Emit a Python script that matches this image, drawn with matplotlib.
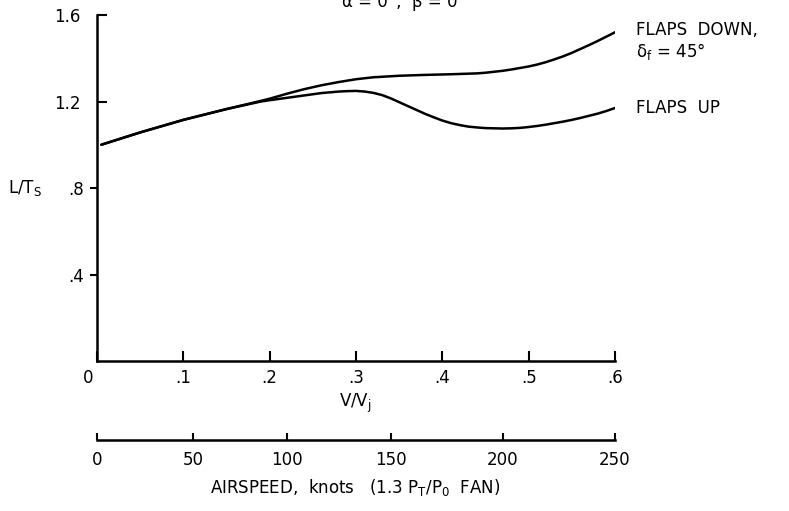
import matplotlib
matplotlib.use("Agg")
import matplotlib.pyplot as plt
from matplotlib.ticker import FixedLocator, FixedFormatter
from matplotlib.transforms import ScaledTranslation

# ---- data ----
flaps_up_v = [0.005, 0.05, 0.10, 0.15, 0.19, 0.20, 0.22, 0.24, 0.26, 0.28, 0.29, 0.30, 0.31,
              0.32, 0.33, 0.34, 0.35, 0.36, 0.37, 0.38, 0.39, 0.40, 0.41, 0.42, 0.43, 0.44,
              0.45, 0.46, 0.47, 0.48, 0.49, 0.50, 0.51, 0.52, 0.53, 0.54, 0.55, 0.56, 0.57,
              0.58, 0.59, 0.60]
flaps_up_l = [1.000, 1.057, 1.115, 1.165, 1.200, 1.206, 1.217, 1.228, 1.239, 1.246, 1.248, 1.249, 1.246,
              1.240, 1.230, 1.215, 1.197, 1.179, 1.161, 1.143, 1.127, 1.112, 1.100, 1.091, 1.084, 1.080,
              1.077, 1.076, 1.075, 1.076, 1.078, 1.082, 1.087, 1.093, 1.100, 1.107, 1.115, 1.124, 1.134,
              1.144, 1.156, 1.170]

flaps_down_v = [0.005, 0.05, 0.10, 0.15, 0.19, 0.20, 0.22, 0.24, 0.26, 0.28, 0.30, 0.32, 0.35,
                0.38, 0.41, 0.44, 0.45, 0.47, 0.48, 0.50, 0.51, 0.52, 0.53, 0.54, 0.55, 0.56,
                0.57, 0.58, 0.59, 0.60]
flaps_down_l = [1.000, 1.057, 1.115, 1.165, 1.203, 1.213, 1.236, 1.257, 1.275, 1.290, 1.303, 1.312, 1.319,
                1.323, 1.326, 1.330, 1.333, 1.342, 1.348, 1.362, 1.371, 1.382, 1.395, 1.409, 1.425, 1.443,
                1.461, 1.480, 1.500, 1.520]

vvj_ticks = [0, 0.1, 0.2, 0.3, 0.4, 0.5, 0.6]
vvj_labels = ["0", ".1", ".2", ".3", ".4", ".5", ".6"]
lts_major = [1.2, 1.6]
lts_major_labels = ["1.2", "1.6"]
lts_minor = [0.4, 0.8]
lts_minor_labels = [".4", ".8"]

airspeed_knots = [0, 50, 100, 150, 200, 250]
airspeed_vvj = [0.0, 0.111, 0.220, 0.341, 0.470, 0.600]

# ---- figure ----
W, H = 789, 511
fig = plt.figure(figsize=(W / 100, H / 100), dpi=100)
plt.rcParams['font.family'] = ['DejaVu Sans']
fs = 12

left = 97 / W
right = 615 / W
bottom = 1 - 361 / H
top = 1 - 15 / H
ax = fig.add_axes([left, bottom, right - left, top - bottom])

ax.plot(flaps_down_v, flaps_down_l, color="black", lw=1.8, solid_capstyle="round", solid_joinstyle="round")
ax.plot(flaps_up_v, flaps_up_l, color="black", lw=1.8, solid_capstyle="round", solid_joinstyle="round")

ax.set_xlim(0, 0.6)
ax.set_ylim(0, 1.6)
for s in ["top", "right"]:
    ax.spines[s].set_visible(False)
for s in ["left", "bottom"]:
    ax.spines[s].set_linewidth(1.8)

ax.set_xticks(vvj_ticks)
ax.set_xticklabels(vvj_labels, fontsize=fs)
ax.tick_params(axis="x", direction="in", length=7, width=1.5, pad=6)
# shift the "0" label left to the corner
lbl0 = ax.get_xticklabels()[0]
lbl0.set_transform(lbl0.get_transform() + ScaledTranslation(-9 / 100, 0, fig.dpi_scale_trans))

ax.yaxis.set_major_locator(FixedLocator(lts_major))
ax.yaxis.set_major_formatter(FixedFormatter(lts_major_labels))
ax.yaxis.set_minor_locator(FixedLocator(lts_minor))
ax.yaxis.set_minor_formatter(FixedFormatter(lts_minor_labels))
ax.tick_params(axis="y", which="major", direction="in", length=7, width=1.5, pad=12, labelsize=fs)
ax.tick_params(axis="y", which="minor", direction="out", length=5, width=1.5, pad=4, labelsize=fs)

# axis labels
fig.text(8 / W, 1 - 188 / H, r"L/T$_\mathregular{S}$", fontsize=fs, ha="left", va="center")
fig.text(355 / W, 1 - 403 / H, r"V/V$_\mathregular{j}$", fontsize=fs, ha="center", va="center")

# right-side curve labels
fig.text(636 / W, 1 - 30 / H, "FLAPS  DOWN,", fontsize=fs, ha="left", va="center")
fig.text(636 / W, 1 - 52 / H, r"$\mathregular{\delta}_\mathregular{f}$ = 45°", fontsize=fs, ha="left", va="center")
fig.text(636 / W, 1 - 108 / H, "FLAPS  UP", fontsize=fs, ha="left", va="center")

# clipped condition text at the top (cut off in the reference)
fig.text(400 / W, 1 - 7 / H, "α = 0°,  β = 0", fontsize=fs, ha="center", va="baseline")

# secondary airspeed scale
ax2 = fig.add_axes([left, 1 - 440 / H, right - left, 0.001])
ax2.set_xlim(0, 0.6)
ax2.set_ylim(0, 1)
for s in ["top", "right", "left"]:
    ax2.spines[s].set_visible(False)
ax2.spines["bottom"].set_linewidth(1.8)
ax2.set_yticks([])
ax2.set_xticks(airspeed_vvj)
ax2.set_xticklabels([str(k) for k in airspeed_knots], fontsize=fs)
ax2.tick_params(axis="x", direction="in", length=5, width=1.5, pad=8)
ax2.patch.set_visible(False)
fig.text(355 / W, 1 - 487 / H, r"AIRSPEED,  knots   (1.3 P$_\mathregular{T}$/P$_\mathregular{0}$  FAN)",
         fontsize=fs, ha="center", va="center")

fig.savefig("out.png", dpi=100)
